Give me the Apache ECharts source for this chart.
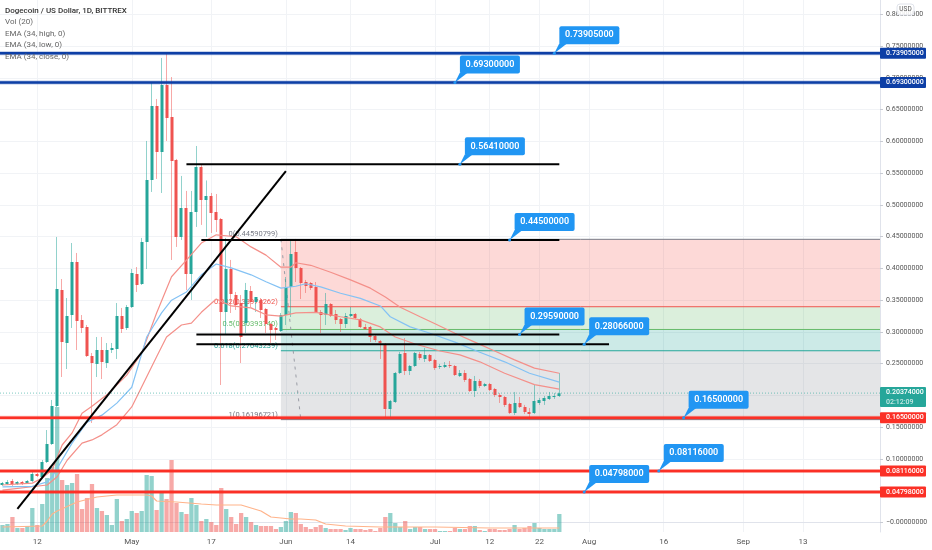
<!DOCTYPE html>
<html>
<head>
<meta charset="utf-8">
<script src="https://cdn.jsdelivr.net/npm/echarts@6/dist/echarts.min.js"></script>
<style>
html, body { margin: 0; padding: 0; background: #fff; }
#chart { width: 932px; height: 550px; }
</style>
</head>
<body>
<div id="chart"></div>
<script>
// open, close, low, high per day from Apr 5
const candles = [
[.0590,.0622,.0575,.0638],[.0606,.0638,.0590,.0669],[.0653,.0606,.0575,.0685],[.0606,.0638,.0590,.0653],[.0638,.0606,.0590,.0653],
[.0622,.0653,.0606,.0669],[.0653,.0764,.0638,.0795],[.0764,.0732,.0716,.0779],[.0716,.0952,.0700,.0984],[.0952,.1236,.0937,.1456],
[.1236,.1834,.1220,.1929],[.1834,.3677,.1819,.4496],[.3661,.2842,.2291,.3834],[.2826,.3252,.2417,.3535],[.3267,.4102,.3063,.4401],
[.4102,.3173,.2716,.4244],[.3189,.3063,.2984,.3267],[.3078,.2622,.2606,.3110],[.2622,.2511,.1567,.2669],[.2496,.2716,.2291,.2921],
[.2716,.2527,.2259,.2921],[.2511,.2716,.2433,.2826],[.2716,.2748,.2669,.2826],[.2732,.3252,.2575,.3456],[.3252,.3047,.2984,.3378],
[.3063,.3393,.3031,.3425],[.3393,.3929,.3378,.3992],[.3913,.3740,.3630,.4023],[.3755,.4418,.3740,.4481],[.4418,.5394,.3992,.6008],
[.5394,.6559,.5205,.6921],[.6559,.5835,.5410,.6669],[.5835,.6889,.5189,.7315],[.6889,.6370,.6008,.7393],[.6386,.5693,.4134,.7015],
[.5709,.4496,.4339,.5725],[.4496,.4953,.4449,.5457],[.4953,.3913,.3661,.5221],[.3913,.4890,.3504,.5221],[.4890,.5599,.4654,.5929],
[.5599,.5079,.4686,.5630],[.5079,.5142,.4496,.5386],[.5142,.4874,.4559,.5189],[.4890,.4764,.4575,.5173],[.4780,.3315,.2165,.4795],
[.3315,.3992,.2953,.4481],[.3992,.3598,.3299,.4134],[.3582,.3425,.3346,.3630],[.3456,.2921,.2511,.3582],[.3141,.3661,.2984,.3772],
[.3646,.3472,.3393,.3724],[.3472,.3551,.3315,.3551],[.3504,.3346,.3220,.3535],[.3362,.3126,.2984,.3378],[.3126,.3031,.2826,.3141],
[.3063,.3031,.2874,.3078],[.3016,.3267,.3000,.3299],[.3267,.3709,.3110,.3866],[.3709,.4228,.3236,.4449],[.4260,.4008,.3787,.4465],
[.4008,.3772,.3519,.4023],[.3787,.3724,.3614,.3819],[.3772,.3693,.3661,.3787],[.3709,.3315,.3299,.3787],[.3315,.3267,.2984,.3346],
[.3267,.3441,.3110,.3614],[.3441,.3252,.3236,.3456],[.3283,.3189,.3126,.3346],[.3205,.3126,.3000,.3220],[.3126,.3252,.3063,.3299],
[.3252,.3283,.3236,.3393],[.3283,.3220,.3205,.3299],[.3205,.3078,.3063,.3220],[.3078,.3047,.3031,.3126],[.3078,.2921,.2842,.3094],
[.2937,.2874,.2842,.2953],[.2858,.2826,.2575,.2874],[.2811,.1787,.1661,.2826],[.1787,.1913,.1645,.1929],[.1897,.2354,.1882,.2370],
[.2354,.2653,.2338,.2685],[.2669,.2386,.2322,.2905],[.2386,.2464,.2322,.2480],[.2464,.2669,.2449,.2685],[.2653,.2590,.2559,.2685],
[.2575,.2637,.2527,.2748],[.2637,.2543,.2527,.2653],[.2559,.2433,.2401,.2575],[.2449,.2464,.2417,.2496],[.2449,.2480,.2433,.2527],
[.2480,.2464,.2433,.2543],[.2464,.2322,.2307,.2480],[.2307,.2354,.2291,.2401],[.2354,.2244,.2212,.2401],[.2259,.2070,.2055,.2275],
[.2070,.2228,.1976,.2307],[.2228,.2150,.2118,.2259],[.2150,.2181,.2134,.2197],[.2181,.2086,.2070,.2197],[.2102,.2008,.1976,.2118],
[.2008,.1976,.1882,.2039],[.1976,.1851,.1819,.1992],[.1866,.1724,.1708,.1882],[.1724,.1882,.1693,.2055],[.1882,.1819,.1803,.1976],
[.1819,.1740,.1708,.1851],[.1740,.1708,.1614,.1803],[.1724,.1913,.1708,.2165],[.1882,.1929,.1851,.1961],[.1913,.1961,.1851,.1992],
[.1945,.1992,.1929,.2055],[.1976,.1992,.1945,.2039],[.1992,.2037,.1976,.2354]
];
const volumes = [
7,8,15,4,4,6,24,7,28,54,65,125,52,47,49,58,23,34,48,24,
21,17,7,33,11,13,21,19,21,57,56,22,39,33,72,29,20,18,34,27,
11,13,10,7,44,23,15,8,19,15,10,7,6,6,6,3,5,11,20,19,
8,5,3,5,7,4,3,3,3,2,4,3,3,2,3,1,4,15,19,9,
5,11,3,5,5,3,3,3,1,1,1,4,3,3,6,6,2,1,3,3,
2,2,3,7,3,4,6,9,4,3,3,3,18
];
// day index, value
const volMa = [[0,5],[8,6],[9,11],[10,18],[11,21],[15,30],[19,35],[23,37],[29,37],[30,36],[31,31],[35,30],[40,28],[43,27],[48,27],[52,21],[54,15],[58,13],[60,13],[63,12],[65,8],[69,6],[76,5],[87,5],[98,4],[112,4]];
const emaHigh = [[0,.059],[6,.062],[8,.070],[10,.083],[12,.122],[14,.141],[16,.172],[18,.183],[21,.201],[25,.232],[28,.267],[31,.330],[34,.387],[37,.413],[40,.440],[43,.453],[47,.450],[50,.434],[53,.421],[56,.402],[58,.402],[59,.409],[62,.405],[66,.394],[70,.382],[74,.369],[77,.355],[80,.339],[84,.324],[87,.313],[91,.298],[95,.284],[99,.270],[103,.256],[107,.243],[112,.235]];
const emaClose = [[0,.056],[6,.057],[9,.064],[10,.072],[14,.125],[17,.158],[20,.169],[23,.188],[26,.213],[29,.292],[32,.330],[34,.350],[37,.363],[40,.390],[43,.407],[46,.401],[50,.390],[53,.379],[56,.369],[59,.372],[61,.376],[64,.371],[68,.361],[72,.353],[76,.341],[78,.324],[82,.308],[86,.298],[91,.284],[96,.268],[101,.253],[106,.235],[112,.221]];
const emaLow = [[0,.051],[9,.059],[11,.072],[13,.098],[16,.125],[18,.130],[20,.138],[23,.154],[26,.182],[31,.261],[33,.292],[36,.311],[38,.314],[40,.331],[43,.352],[46,.341],[50,.338],[53,.327],[56,.325],[59,.330],[63,.331],[68,.324],[72,.319],[76,.308],[79,.292],[83,.281],[88,.270],[92,.264],[96,.253],[101,.235],[107,.217],[112,.210]];

const blueLevels = [0.73905, 0.693];
const redLevels = [0.165, 0.08116, 0.04798];
const lastPrice = 0.20374;
const lastTimer = '02:12:09';

const fibRatios = ['0', '0.382', '0.5', '0.618', '1'];
const fibPrices = [0.44590799, 0.33974262, 0.3039374, 0.27043239, 0.16196721];
const fibStart = 56;
const fibDash = [[56, 0.4459], [60, 0.162]];

// black trend lines: [from day, from price], [to day, to price]
const trendLines = [
    [[37, 0.5641], [112, 0.5641]],
    [[40, 0.445], [112, 0.445]],
    [[39, 0.2959], [112, 0.2959]],
    [[39, 0.28066], [122, 0.28066]],
    [[3, 0.0213], [57, 0.5535]]
];
// day of the callout anchor, price on it
const callouts = [[111, 0.73905], [91, 0.693], [92, 0.5641], [102, 0.445], [104, 0.2959], [117, 0.28066], [137, 0.165], [132, 0.08116], [117, 0.04798]];

const yTicks = [0, 0.05, 0.1, 0.15, 0.2, 0.25, 0.3, 0.35, 0.4, 0.45, 0.5, 0.55, 0.6, 0.65, 0.7, 0.75, 0.8];
const xTickDays = [7, 26, 42, 57, 70, 87, 98, 108, 118, 133, 149, 161];
const xTickLabels = ['12', 'May', '17', 'Jun', '14', 'Jul', '12', '22', 'Aug', '16', 'Sep', '13'];
const legendLines = ['Dogecoin / US Dollar, 1D, BITTREX', 'Vol (20)', 'EMA (34, high, 0)', 'EMA (34, low, 0)', 'EMA (34, close, 0)'];

let days = [];
for (let d = new Date(Date.UTC(2021, 3, 5)), n = 0; n < 177; n++) {
    days.push(d.toISOString().slice(0, 10));
    d.setUTCDate(d.getUTCDate() + 1);
}

const font = 'Roboto';
const up = '#26a69a', down = '#ef5350';
const lvlBlue = '#0d3fa6', lvlRed = '#fb3026', calloutBlue = '#2196f3';
const fibColors = ['#787b86', '#f0564f', '#66bb6a', '#26a69a', '#787b86'];
const fibFills = ['rgba(244,67,54,.2)', 'rgba(76,175,80,.2)', 'rgba(0,150,136,.2)', 'rgba(120,123,134,.2)'];

let chart = echarts.init(document.getElementById('chart'), null, { renderer: 'canvas' });

function emaSeries(data, color) {
    return { type: 'line', data: data, showSymbol: false, silent: true, z: 4, lineStyle: { color: color, width: 1.2 } };
}

// price tag sitting on the right axis
function tag(y, h, color, lines, size) {
    let kids = [{
        type: 'rect', shape: { x: 880, y: y - h / 2, width: 46, height: h, r: 1 },
        style: { fill: color }, z2: 1
    }];
    lines.forEach((t, i) => {
        kids.push({
            type: 'text', z2: 2,
            style: {
                x: 886, y: y - h / 2 + 5.5 + i * 10, text: t, fill: i ? 'rgba(255,255,255,.75)' : '#fff',
                font: '500 ' + (size || 7) + 'px ' + font, verticalAlign: 'middle'
            }
        });
    });
    return kids;
}

function levelItem(color, width) {
    return (params, api) => {
        let y = api.coord([0, api.value(0)])[1];
        let c = params.coordSys;
        return {
            type: 'group', children: [
                { type: 'line', shape: { x1: c.x, y1: y, x2: c.x + c.width, y2: y }, style: { stroke: color, lineWidth: width + 1.5, opacity: 0.3 } },
                { type: 'line', shape: { x1: c.x, y1: y, x2: c.x + c.width, y2: y }, style: { stroke: color, lineWidth: width } }
            ].concat(tag(y, 11, color, [api.value(0).toFixed(8)]))
        };
    };
}

let option = {
    animation: false,
    backgroundColor: '#fff',
    grid: { left: -2, right: 52, top: 0, bottom: 18 },
    xAxis: {
        type: 'category',
        data: days,
        axisLine: { lineStyle: { color: '#e0e3eb' } },
        axisTick: { show: false, alignWithLabel: true },
        axisLabel: {
            interval: (i) => xTickDays.includes(i),
            formatter: (v, i) => xTickLabels[xTickDays.indexOf(i)],
            color: '#555', fontFamily: font, fontSize: 8, margin: 6
        },
        splitLine: { show: true, alignWithLabel: true, interval: (i) => xTickDays.includes(i), lineStyle: { color: '#f1f3f6' } }
    },
    yAxis: [
        {
            type: 'value', position: 'right', min: -0.015, max: 0.8228, scale: true,
            axisLine: { show: true, lineStyle: { color: '#e0e3eb' } },
            axisTick: { show: true, length: 3, customValues: yTicks, lineStyle: { color: '#c8cbd3' } },
            axisLabel: {
                customValues: yTicks, margin: 6, color: '#555', fontFamily: font, fontSize: 7,
                formatter: (v) => (v === 0 ? '\u2212' : '') + v.toFixed(8)
            },
            splitLine: { show: true, lineStyle: { color: '#f1f3f6' } }
        },
        // volume shares the pane, no visible scale
        { type: 'value', min: 0, max: 532, show: false }
    ],
    graphic: [
        { type: 'rect', z: 30, shape: { x: 897, y: 4, width: 17, height: 11, r: 3 }, style: { fill: 'rgba(255,255,255,.85)', stroke: '#e0e3eb', lineWidth: 1 } },
        { type: 'text', z: 31, style: { x: 905.5, y: 9.5, text: 'USD', fill: '#555', font: '6.5px ' + font, align: 'center', verticalAlign: 'middle' } }
    ].concat(legendLines.map((t, i) => ({
        type: 'text', z: 30,
        style: {
            x: 5, y: 11 + i * 11.45, text: t, fill: i ? '#666' : '#333',
            font: (i ? '' : '500 ') + '8px ' + font, verticalAlign: 'middle'
        }
    }))),
    series: [
        // fib retracement bands
        {
            type: 'custom', z: 1, silent: true,
            data: fibPrices.map((p) => [fibStart, p]),
            renderItem: (params, api) => {
                let i = params.dataIndex;
                let c = params.coordSys;
                let p = api.coord([fibStart, fibPrices[i]]);
                let right = c.x + c.width;
                let kids = [
                    { type: 'line', shape: { x1: p[0], y1: p[1], x2: right, y2: p[1] }, style: { stroke: fibColors[i], lineWidth: 1 }, z2: 2 },
                    {
                        type: 'text', z2: 8,
                        style: {
                            x: p[0] - 3, y: p[1] - 5, text: fibRatios[i] + '(' + fibPrices[i].toFixed(8) + ')', fill: fibColors[i],
                            font: '7.5px ' + font, align: 'right', verticalAlign: 'middle'
                        }
                    }
                ];
                if (i < fibFills.length) {
                    let q = api.coord([fibStart, fibPrices[i + 1]]);
                    kids.unshift({ type: 'rect', shape: { x: p[0], y: p[1], width: right - p[0], height: q[1] - p[1] }, style: { fill: fibFills[i] } });
                }
                return { type: 'group', children: kids };
            }
        },
        {
            type: 'line', data: fibDash, showSymbol: false, silent: true, z: 2,
            lineStyle: { color: '#9a9da6', width: 1, type: [3, 5] }
        },
        {
            name: 'Vol', type: 'bar', yAxisIndex: 1, data: volumes, barWidth: '86%', z: 2, silent: true,
            itemStyle: {
                color: (p) => (candles[p.dataIndex][1] >= candles[p.dataIndex][0] ? 'rgba(38,166,154,.5)' : 'rgba(239,83,80,.5)')
            }
        },
        { type: 'line', yAxisIndex: 1, data: volMa, showSymbol: false, silent: true, z: 3, lineStyle: { color: '#ffb38a', width: 1.2 } },
        // wicks come out of this one, bodies out of the next
        {
            type: 'candlestick', data: candles, z: 3, silent: true, barWidth: 1,
            itemStyle: { color: 'rgba(38,166,154,.5)', color0: 'rgba(239,83,80,.5)', borderColor: 'rgba(38,166,154,.5)', borderColor0: 'rgba(239,83,80,.5)', borderWidth: 1 }
        },
        {
            type: 'candlestick', data: candles, z: 3, silent: true, barWidth: 3.5,
            itemStyle: { color: up, color0: down, borderWidth: 0 }
        },
        emaSeries(emaHigh, '#f4908a'),
        emaSeries(emaLow, '#f4908a'),
        emaSeries(emaClose, '#84c2f4'),
        // last price
        {
            type: 'custom', z: 6, silent: true, data: [[lastPrice]],
            renderItem: (params, api) => {
                let y = api.coord([0, lastPrice])[1];
                let c = params.coordSys;
                return {
                    type: 'group', children: [
                        { type: 'line', shape: { x1: c.x, y1: y, x2: c.x + c.width, y2: y }, style: { stroke: up, lineWidth: 1, opacity: 0.6, lineDash: [1, 2] } }
                    ].concat(tag(y + 4, 20, up, [lastPrice.toFixed(8), lastTimer]))
                };
            }
        },
        { type: 'custom', z: 7, silent: true, data: blueLevels.map((v) => [v]), renderItem: levelItem(lvlBlue, 2.5) },
        { type: 'custom', z: 7, silent: true, data: redLevels.map((v) => [v]), renderItem: levelItem(lvlRed, 2.5) }
    ].concat(trendLines.map((l) => ({
        type: 'line', data: l, showSymbol: false, silent: true, z: 8, lineStyle: { color: '#000', width: 2 }
    }))).concat([
        {
            type: 'custom', z: 9, silent: true, data: callouts,
            renderItem: (params, api) => {
                let a = api.coord([api.value(0), api.value(1)]);
                let bx = a[0] + 5, by = a[1] - 27;
                return {
                    type: 'group', children: [
                        { type: 'polygon', shape: { points: [[a[0], a[1]], [bx, by + 17], [bx + 8, by + 17]] }, style: { fill: calloutBlue } },
                        { type: 'rect', shape: { x: bx, y: by, width: 60, height: 18, r: 2 }, style: { fill: calloutBlue } },
                        { type: 'circle', shape: { cx: a[0], cy: a[1], r: 1.5 }, style: { fill: calloutBlue } },
                        {
                            type: 'text', z2: 3,
                            style: {
                                x: bx + 30, y: by + 9, text: api.value(1).toFixed(8), fill: '#fff',
                                font: '600 9px ' + font, align: 'center', verticalAlign: 'middle'
                            }
                        }
                    ]
                };
            }
        }
    ])
};

chart.setOption(option);
</script>
</body>
</html>
